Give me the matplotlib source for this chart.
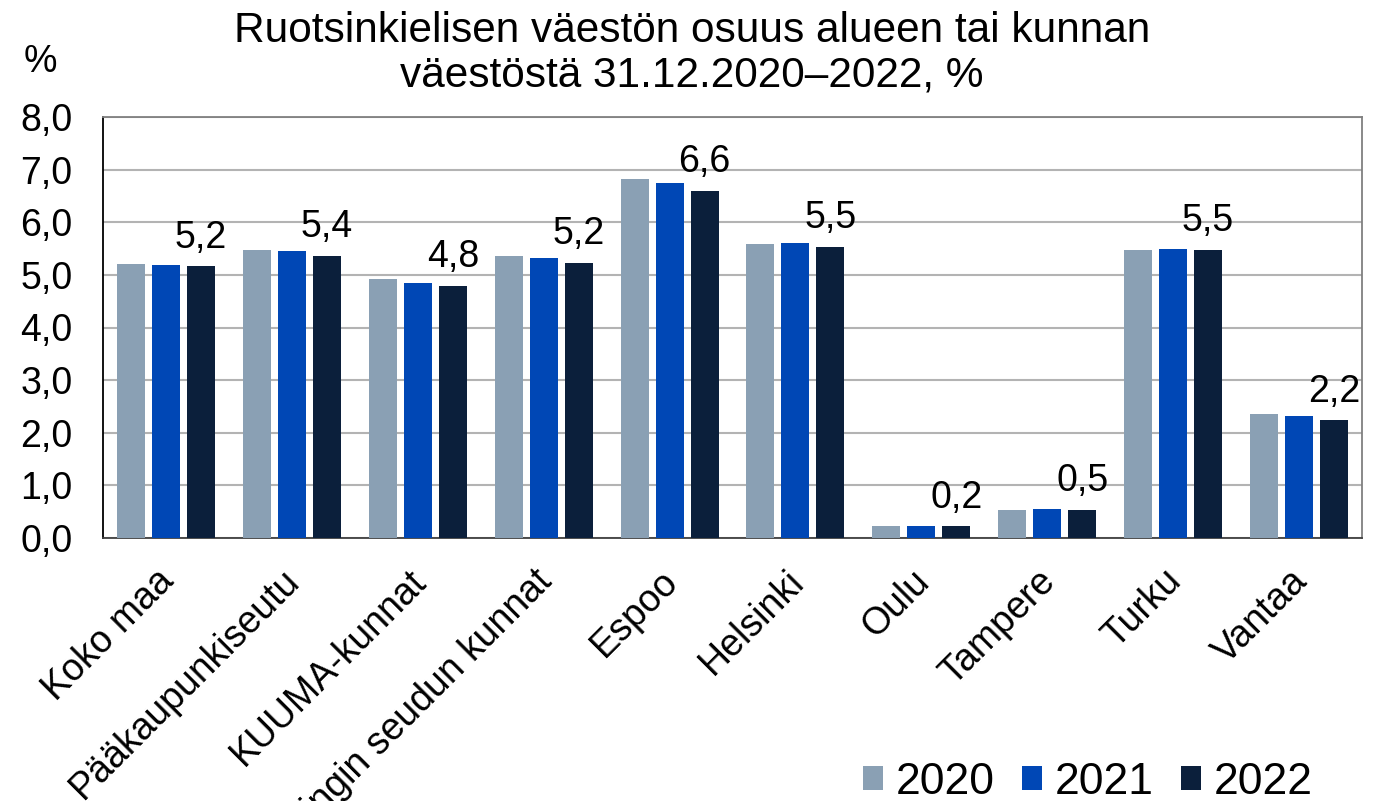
import numpy as np
import matplotlib.pyplot as plt
from matplotlib.ticker import FuncFormatter, MultipleLocator
from matplotlib.transforms import ScaledTranslation

plt.rcParams['font.family'] = ['Liberation Sans', 'DejaVu Sans']

# data
categories = ['Koko maa', 'Pääkaupunkiseutu', 'KUUMA-kunnat', 'Helsingin seudun kunnat',
              'Espoo', 'Helsinki', 'Oulu', 'Tampere', 'Turku', 'Vantaa']
years = ['2020', '2021', '2022']
v2020 = [5.20, 5.47, 4.93, 5.35, 6.82, 5.59, 0.23, 0.53, 5.48, 2.35]
v2021 = [5.18, 5.45, 4.85, 5.32, 6.74, 5.60, 0.22, 0.55, 5.49, 2.31]
v2022 = [5.16, 5.36, 4.79, 5.23, 6.60, 5.53, 0.22, 0.54, 5.48, 2.24]
colors = ['#8aa0b4', '#0047b5', '#0b1f3b']

fig = plt.figure(figsize=(13.79, 8.01), dpi=100)
ax = fig.add_axes([103 / 1379, 1 - 538 / 801, 1259 / 1379, 421 / 801])

x = np.arange(len(categories))
w = 0.222
step = 0.278
for i, (vals, yr) in enumerate(zip([v2020, v2021, v2022], years)):
    ax.bar(x + (i - 1) * step, vals, width=w, color=colors[i], label=yr, zorder=3)

# labels for latest year
for xi, v in zip(x, v2022):
    ax.text(xi + step, v + 0.2, f'{v:.1f}'.replace('.', ','), ha='center', va='bottom',
            fontsize=27)

ax.set_xlim(-0.5, len(categories) - 0.5)
ax.set_ylim(0, 8)
ax.yaxis.set_major_locator(MultipleLocator(1))
ax.yaxis.set_major_formatter(FuncFormatter(lambda v, p: f'{v:.1f}'.replace('.', ',')))
ax.grid(axis='y', color='#b3b3b3', linewidth=1.5, zorder=0)
ax.set_xticks(x)
ax.set_xticklabels([])
# category labels, rotated
shift = ScaledTranslation(-10 / 100, -25 / 100, fig.dpi_scale_trans)
for xi, cat in zip(x, categories):
    ax.text(xi, 0, cat, transform=ax.get_xaxis_transform() + shift, rotation=45,
            ha='right', va='top', rotation_mode='anchor', fontsize=27, clip_on=False)
ax.tick_params(axis='y', labelsize=27, length=0, pad=22)
ax.tick_params(axis='x', length=0)
ax.spines['left'].set_color('#000000')
for s in ['top', 'right', 'bottom']:
    ax.spines[s].set_color('#808080')
ax.spines['bottom'].set_color('#404040')
for s in ax.spines.values():
    s.set_linewidth(1.3)

fig.text(692 / 1379, 1 - 11 / 801, 'Ruotsinkielisen väestön osuus alueen tai kunnan\nväestöstä 31.12.2020–2022, %',
         ha='center', va='top', fontsize=30.5, linespacing=1.15)
fig.text(40 / 1379, 1 - 62 / 801, '%', ha='center', va='center', fontsize=27)

fig.legend(loc='center', bbox_to_anchor=(1088 / 1379, 1 - 782 / 801), ncol=3, frameon=False,
           fontsize=32, handlelength=0.45, handleheight=0.45, handletextpad=0.3,
           columnspacing=0.6)

fig.savefig('out.png', dpi=100)
